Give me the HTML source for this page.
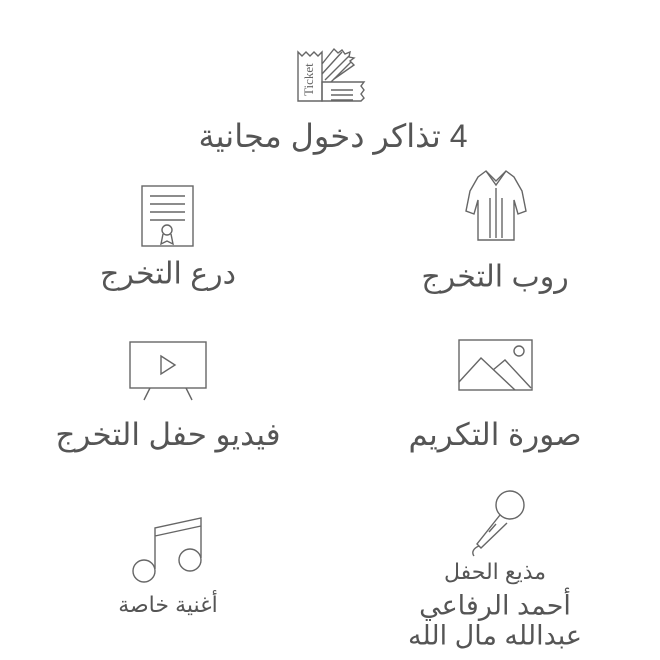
<!DOCTYPE html>
<html><head><meta charset="utf-8"><style>
body{margin:0;width:660px;height:660px;background:#fff;position:relative;overflow:hidden;font-family:"Liberation Sans","Noto Sans CJK SC","DejaVu Sans",sans-serif;color:#555}
.t{position:absolute;transform:translate(-50%,-50%);white-space:nowrap;direction:rtl}
svg{position:absolute;fill:none;stroke:#666;stroke-width:1.4}
</style></head><body>
<svg style="left:295px;top:44px" width="76" height="60" viewBox="0 0 76 60">
<path d="M3 57V8l4 4 4-4 4 4 4-4 4 4 4-4v49z M27 20l12-15 4 4 4-3 3 4 5-2 -1 5 5 1 -4 3 4 4 -20 14"/>
<path d="M27 30l20-22 M30 36l24-24 M36 38l20-20"/>
<path d="M27 57V38h42l-3 4 3 4-3 4 3 4-3 3H27z M36 46h22 M36 51h22 M36 56h22"/>
<text x="18" y="52" transform="rotate(-90 18 52)" font-size="13" fill="#666" stroke="none" font-family="Liberation Serif">Ticket</text>
</svg>
<div class="t" style="left:333px;top:136px;font-size:32px">4 تذاكر دخول مجانية</div>

<svg style="left:140px;top:184px" width="56" height="66" viewBox="0 0 56 66">
<rect x="2" y="2" width="51" height="60"/><path d="M10 12h35M10 20h35M10 28h35M10 36h35"/><circle cx="27" cy="46" r="5"/><path d="M23 50l-2 10 6-3 6 3-2-10"/></svg>
<div class="t" style="left:168px;top:274px;font-size:30px">درع التخرج</div>

<svg style="left:464px;top:168px" width="64" height="74" viewBox="0 0 64 74">
<path d="M22 3l-8 6-8 14-4 20 8 3 4-14v40h36V32l4 14 8-3-4-20-8-14-8-6-10 10z"/><path d="M22 3l10 14 10-14 M26 30v40 M32 20v50 M38 30v40"/></svg>
<div class="t" style="left:495px;top:277px;font-size:30px">روب التخرج</div>

<svg style="left:128px;top:340px" width="80" height="62" viewBox="0 0 80 62">
<rect x="2" y="2" width="76" height="46"/><path d="M33 16l14 9-14 9z M22 48l-6 12 M58 48l6 12"/></svg>
<div class="t" style="left:168px;top:435px;font-size:31px">فيديو حفل التخرج</div>

<svg style="left:457px;top:338px" width="78" height="56" viewBox="0 0 78 56">
<rect x="2" y="2" width="73" height="50"/><circle cx="62" cy="13" r="5"/><path d="M2 44l22-24 34 32 M36 32l12-10 26 28"/></svg>
<div class="t" style="left:495px;top:435px;font-size:31px">صورة التكريم</div>

<svg style="left:131px;top:514px" width="74" height="70" viewBox="0 0 74 70">
<path d="M24 55V14l46-10v40 M24 22l46-10"/><circle cx="13" cy="57" r="11"/><circle cx="59" cy="46" r="11"/></svg>
<div class="t" style="left:168px;top:605px;font-size:22px">أغنية خاصة</div>

<svg style="left:463px;top:488px" width="66" height="70" viewBox="0 0 66 70">
<circle cx="47" cy="17" r="14"/><path d="M37 27L14 56 18 60 44 35 M16 58c-5 2-8 6-5 10 M26 44l7-8"/></svg>
<div class="t" style="left:495px;top:572px;font-size:22px">مذيع الحفل</div>
<div class="t" style="left:495px;top:606px;font-size:27px">أحمد الرفاعي</div>
<div class="t" style="left:495px;top:636px;font-size:27px">عبدالله مال الله</div>
</body></html>
